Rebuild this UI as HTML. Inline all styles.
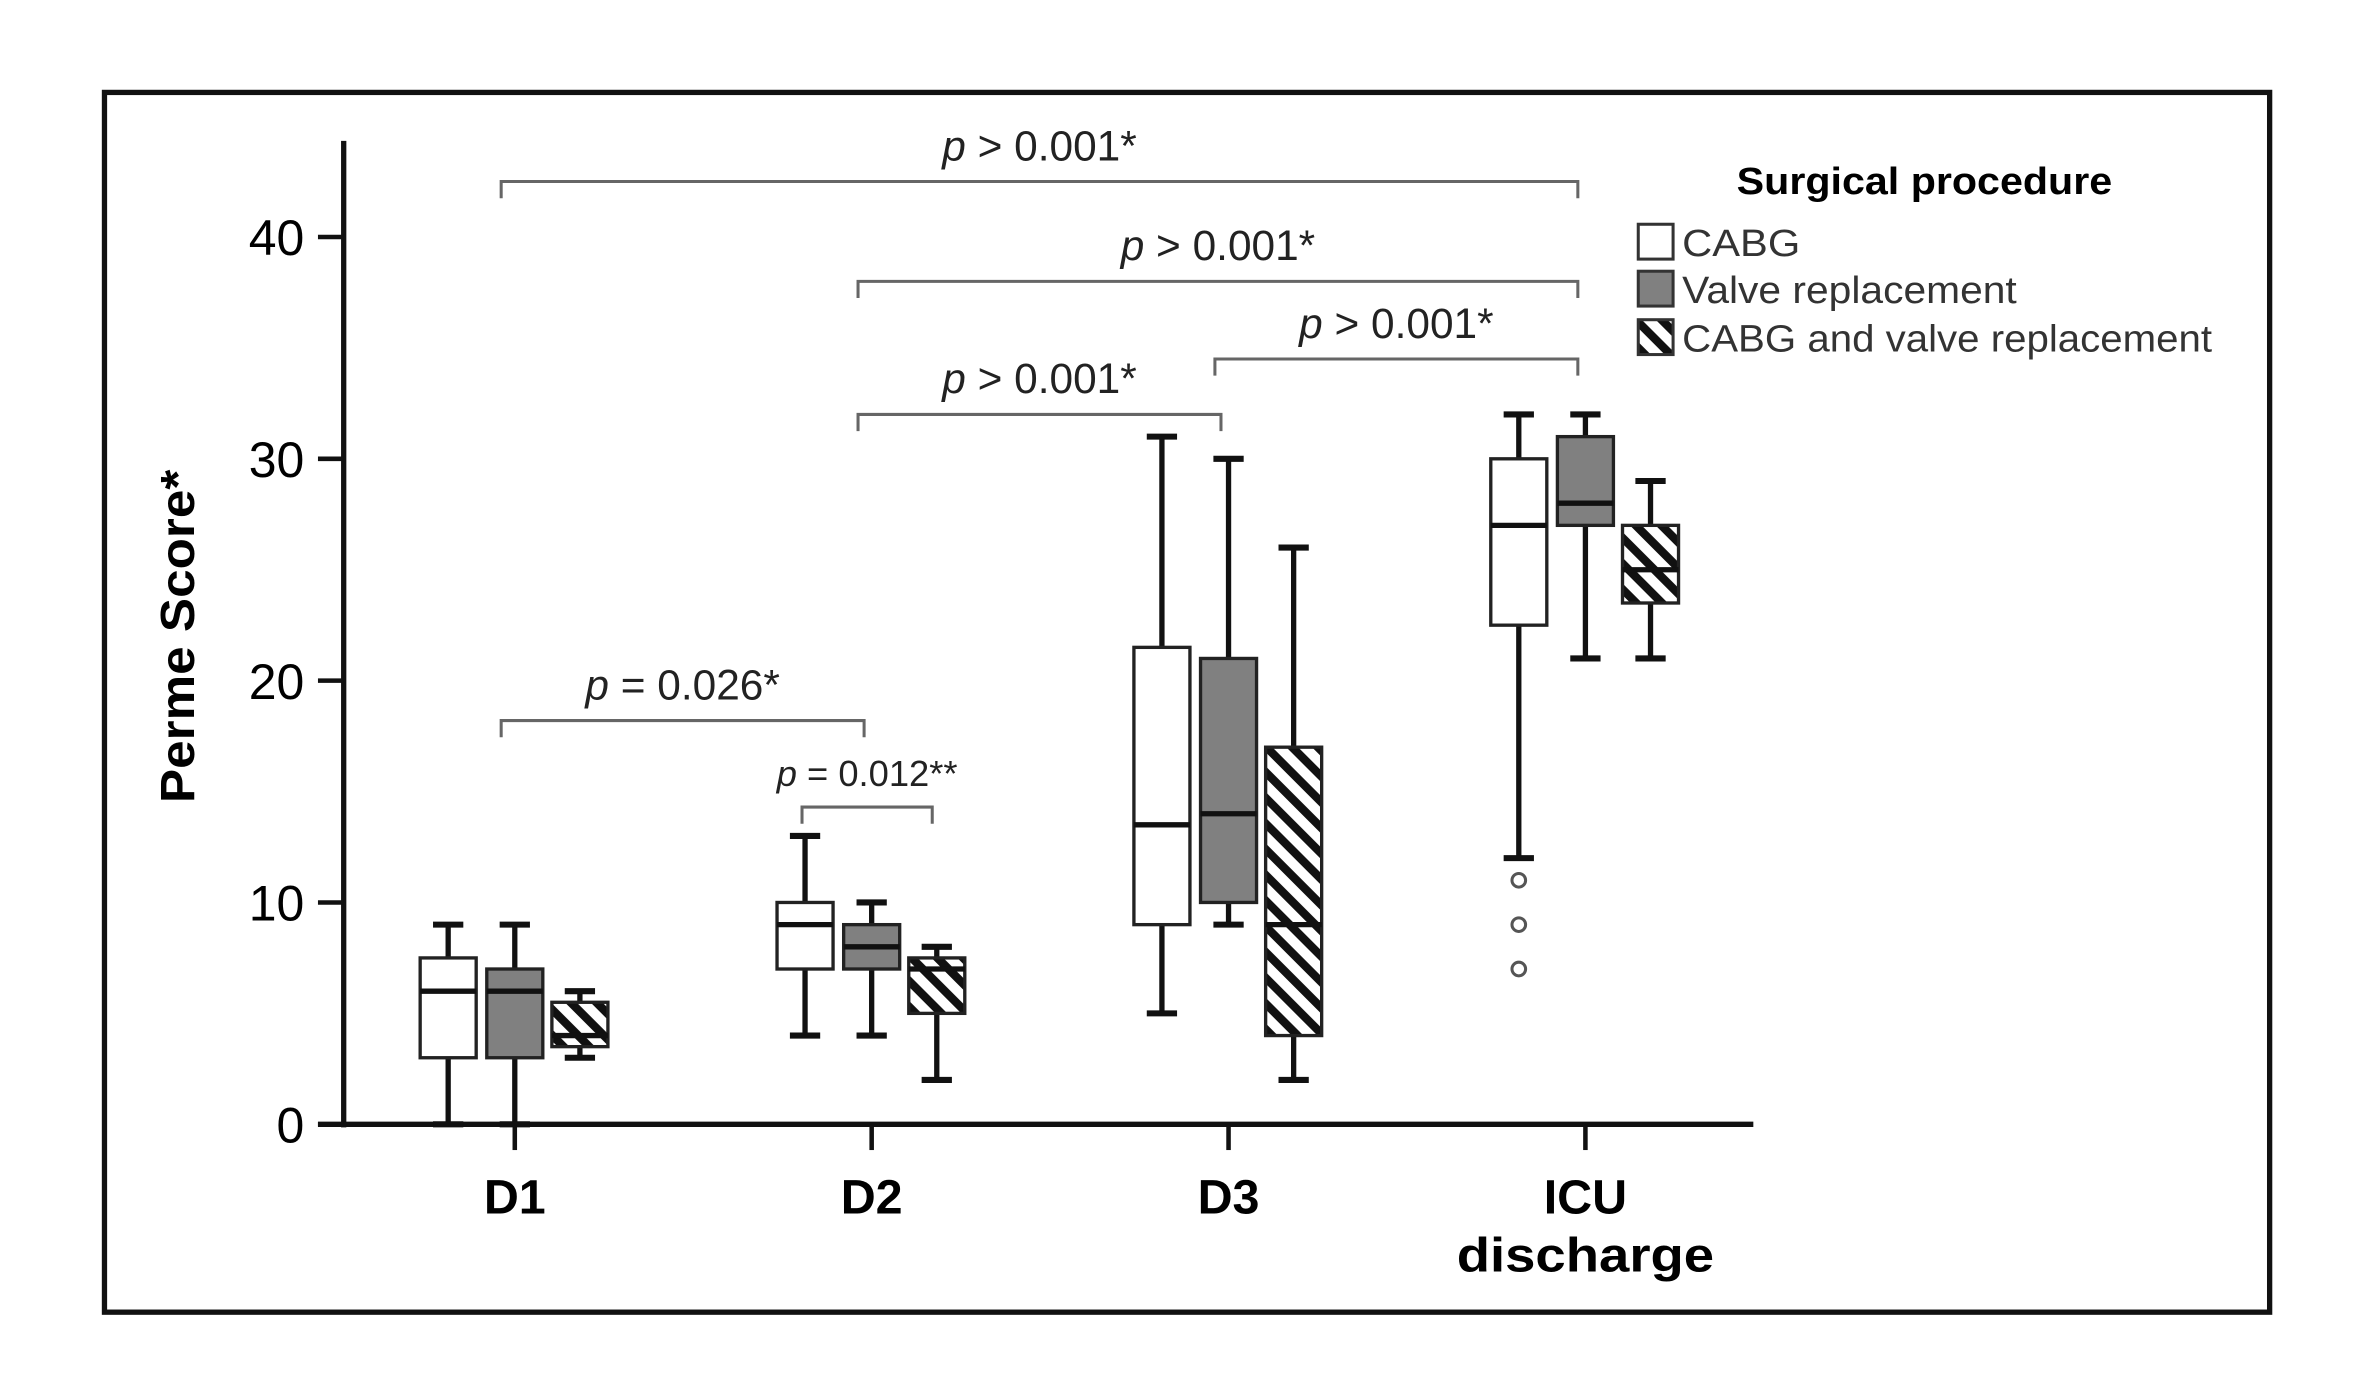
<!DOCTYPE html>
<html><head><meta charset="utf-8"><style>
html,body{margin:0;padding:0;background:#fff}
svg{display:block}
text{font-family:"Liberation Sans",sans-serif}
</style></head><body>
<svg id="chart" width="2362" height="1394" viewBox="0 0 1560 920" preserveAspectRatio="none" xmlns="http://www.w3.org/2000/svg">
<defs>
<pattern id="hatch" patternUnits="userSpaceOnUse" width="12" height="12" patternTransform="rotate(-45)">
<rect width="12" height="12" fill="#fff"/><rect x="0" y="0" width="5.5" height="12" fill="#111"/>
</pattern>
</defs>
<rect x="69" y="61" width="1430" height="805" fill="none" stroke="#111" stroke-width="3.5"/>
<g id="axes"></g>
<g id="brackets"></g>
<g id="boxes"></g>
<g>
<text x="1147" y="128" font-size="25" font-weight="bold" textLength="248" lengthAdjust="spacingAndGlyphs">Surgical procedure</text>
<g><rect x="1082" y="148" width="23" height="23" fill="#fff" stroke="#333" stroke-width="2"/><text x="1111" y="169" font-size="25" textLength="78" lengthAdjust="spacingAndGlyphs" fill="#333">CABG</text></g>
<g><rect x="1082" y="179" width="23" height="23" fill="#808080" stroke="#333" stroke-width="2"/><text x="1111" y="200" font-size="25" textLength="221" lengthAdjust="spacingAndGlyphs" fill="#333">Valve replacement</text></g>
<g><rect x="1082" y="211" width="23" height="23" fill="url(#hatch)" stroke="#333" stroke-width="2"/><text x="1111" y="232" font-size="25" textLength="350" lengthAdjust="spacingAndGlyphs" fill="#333">CABG and valve replacement</text></g>
</g>
<text transform="translate(128,420) rotate(-90)" text-anchor="middle" font-size="32" font-weight="bold" textLength="220" lengthAdjust="spacingAndGlyphs">Perme Score*</text>
</svg>
<script>
const categories = ["D1","D2","D3","ICU discharge"];
const yTicks = [0,10,20,30,40];
const groups = ["CABG","Valve replacement","CABG and valve replacement"];
// [min, q1, median, q3, max] per category
const cabg  = [[0,3,6,7.5,9],[4,7,9,10,13],[5,9,13.5,21.5,31],[12,22.5,27,30,32]];
const valve = [[0,3,6,7,9],[4,7,8,9,10],[9,10,14,21,30],[21,27,28,31,32]];
const combo = [[3,3.5,4,5.5,6],[2,5,7,7.5,8],[2,4,9,17,26],[21,23.5,25,27,29]];
const outlierCat = [3,3,3];
const outlierVal = [11,9,7];
const bracketFrom = [0,1,2,1,0,1];
const bracketTo   = [3,3,3,2,1,1];
const bracketVal  = [42.5,38,34.5,32,18.2,14.3];
const bracketLabels = ["> 0.001*","> 0.001*","> 0.001*","> 0.001*","= 0.026*","= 0.012**"];

const NS="http://www.w3.org/2000/svg";
const y0=742, unit=14.64;
const y=v=>y0-v*unit;
const catX=i=>340+i*235.7;
const offs=[-44,0,43];
function mk(t,a,p){const e=document.createElementNS(NS,t);for(const k in a)e.setAttribute(k,a[k]);p.appendChild(e);return e;}
const ax=document.getElementById('axes');
const yl=mk('line',{x1:227,y1:93,x2:227,y2:y0+2,stroke:'#111','stroke-width':3.5},ax);


const xl=mk('line',{x1:210,y1:y0,x2:1158,y2:y0,stroke:'#111','stroke-width':3.5},ax);


yTicks.forEach(v=>{
  const g=mk('g',{},ax);
  
  
  mk('line',{x1:210,y1:y(v),x2:227,y2:y(v),stroke:'#111','stroke-width':3},g);
  const t=mk('text',{x:201,y:y(v)+12,'text-anchor':'end','font-size':33},g);t.textContent=v;
});
categories.forEach((c,i)=>{
  const g=mk('g',{},ax);
  
  
  mk('line',{x1:catX(i),y1:y0,x2:catX(i),y2:y0+17,stroke:'#111','stroke-width':3},g);
  const parts=c==="ICU discharge"?["ICU","discharge"]:[c];
  parts.forEach((p,k)=>{const t=mk('text',{x:catX(i),y:801+k*38,'text-anchor':'middle','font-size':32,'font-weight':'bold'},g);
    if(p==="discharge"){t.setAttribute('textLength',170);t.setAttribute('lengthAdjust','spacingAndGlyphs');}
    t.textContent=p;});
});
const bx=document.getElementById('boxes');
const series=[cabg,valve,combo];
const fills=['#fff','#808080','url(#hatch)'];
const names=['cabg','valve','combo'];
series.forEach((s,si)=>s.forEach((d,ci)=>{
  const cx=catX(ci)+offs[si], w=37, cw=20;
  const g=mk('g',{},bx);
  
  
  mk('line',{x1:cx,y1:y(d[0]),x2:cx,y2:y(d[4]),stroke:'#111','stroke-width':3.5},g);
  mk('line',{x1:cx-cw/2,y1:y(d[0]),x2:cx+cw/2,y2:y(d[0]),stroke:'#111','stroke-width':4},g);
  mk('line',{x1:cx-cw/2,y1:y(d[4]),x2:cx+cw/2,y2:y(d[4]),stroke:'#111','stroke-width':4},g);
  mk('rect',{x:cx-w/2,y:y(d[3]),width:w,height:y(d[1])-y(d[3]),fill:fills[si],stroke:'#222','stroke-width':2.2},g);
  mk('line',{x1:cx-w/2,y1:y(d[2]),x2:cx+w/2,y2:y(d[2]),stroke:'#111','stroke-width':3.5},g);
}));
outlierVal.forEach((v,i)=>{
  const c=mk('circle',{cx:catX(outlierCat[i])+offs[0],cy:y(v),r:4.5,fill:'#fff',stroke:'#555','stroke-width':2},bx);
  
  
});
const br=document.getElementById('brackets');
bracketFrom.forEach((f,i)=>{
  let x1=catX(f)-9, x2=catX(bracketTo[i])-5;
  if(i===5){x1=catX(1)-46;x2=catX(1)+40;}
  const by=y(bracketVal[i]);
  const g=mk('g',{},br);
  
  
  mk('polyline',{points:`${x1},${by+11} ${x1},${by} ${x2},${by} ${x2},${by+11}`,fill:'none',stroke:'#666','stroke-width':2},g);
  const fs=i===5?24:28;
  const t=mk('text',{x:(x1+x2)/2,y:by-14,'text-anchor':'middle','font-size':fs,fill:'#222'},g);
  const p=mk('tspan',{'font-style':'italic'},t);p.textContent='p';
  const r=mk('tspan',{},t);r.textContent=' '+bracketLabels[i];
});
</script>
</body></html>
